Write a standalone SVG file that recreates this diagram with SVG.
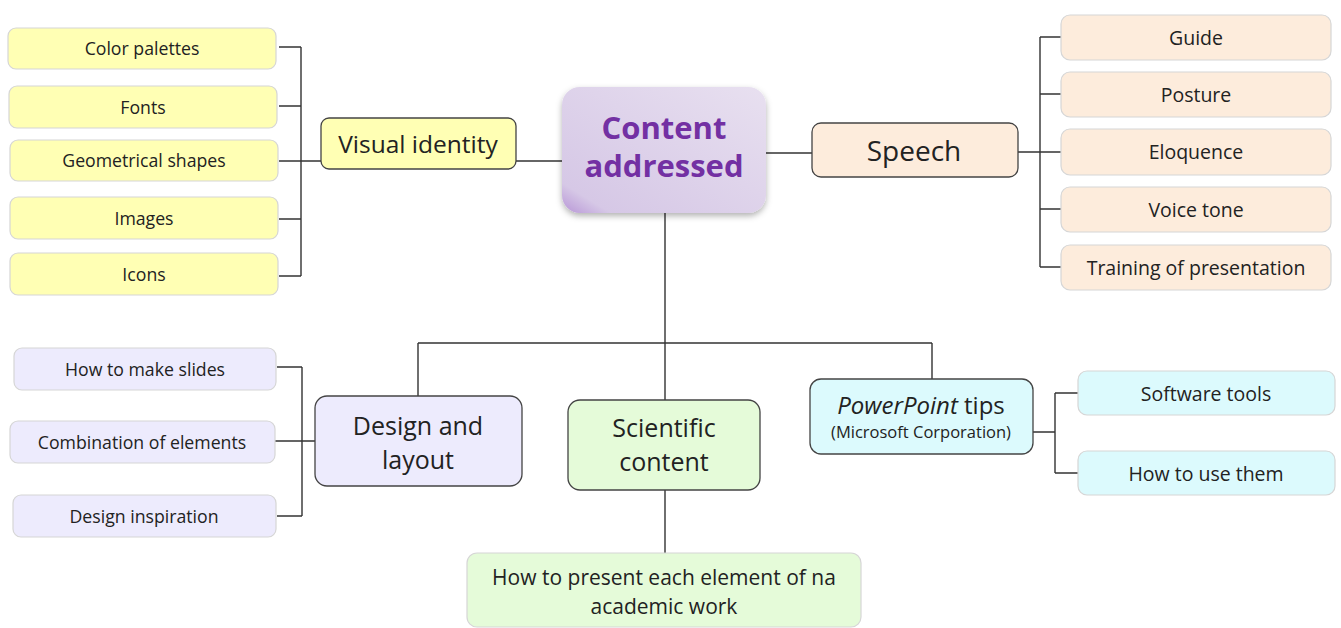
<svg xmlns="http://www.w3.org/2000/svg" width="1341" height="628" viewBox="0 0 1341 628">
<style>
text{font-family:"Open Sans","Liberation Sans",sans-serif;fill:#222;text-anchor:middle;dominant-baseline:central}
.leaf{stroke:#d6d6d6;stroke-width:1.2}
.main{stroke:#444;stroke-width:1.3}
.y{fill:#ffffb4}.p{fill:#fdecdc}.l{fill:#edebfd}.g{fill:#e5fbd9}.c{fill:#dcfafd}
.s{font-size:17.7px}.r{font-size:19.5px}.m{font-size:25px}
.con{fill:none;stroke:#333;stroke-width:1.4}
</style>
<defs>
<linearGradient id="cg" x1="0" y1="1" x2="1" y2="0">
<stop offset="0" stop-color="#b795d6"/><stop offset="0.12" stop-color="#d6c8e6"/><stop offset="1" stop-color="#e8e0f0"/>
</linearGradient>
<filter id="sh" x="-20%" y="-20%" width="140%" height="140%"><feDropShadow dx="0" dy="3" stdDeviation="3" flood-color="#000" flood-opacity="0.3"/></filter>
</defs>
<g id="connectors" class="con">
<path d="M279 47H301M279 106H301M279 219H301M279 276H301M301 47V276M279 161H321"/>
<path d="M516 161H562"/>
<path d="M766 153H812"/>
<path d="M1018 152H1061M1040 37V267M1040 37H1061M1040 94H1061M1040 209H1061M1040 267H1061"/>
<path d="M665 213V343M418 343H932M418 343V396M665 343V400M932 343V379"/>
<path d="M277 367H302M277 516H302M302 367V516M275 441H315"/>
<path d="M665 490V553"/>
<path d="M1033 432H1055M1055 393V473M1055 393H1078M1055 473H1078"/>
</g>
<g id="n-color"><rect class="leaf y" x="8" y="28" width="268" height="41" rx="8"/><text class="s" x="142" y="48">Color palettes</text></g>
<g id="n-fonts"><rect class="leaf y" x="9" y="86" width="268" height="42" rx="8"/><text class="s" x="143" y="107">Fonts</text></g>
<g id="n-geom"><rect class="leaf y" x="10" y="140" width="268" height="41" rx="8"/><text class="s" x="144" y="160">Geometrical shapes</text></g>
<g id="n-images"><rect class="leaf y" x="10" y="197" width="268" height="42" rx="8"/><text class="s" x="144" y="218">Images</text></g>
<g id="n-icons"><rect class="leaf y" x="10" y="253" width="268" height="42" rx="8"/><text class="s" x="144" y="274">Icons</text></g>
<g id="n-visual"><rect class="main y" x="321" y="118" width="195" height="51" rx="8"/><text x="418" y="143" style="font-size:24.5px">Visual identity</text></g>
<g id="n-center"><rect x="562" y="87" width="204" height="126" rx="18" fill="url(#cg)" filter="url(#sh)"/>
<text x="664" y="127" style="font-size:31px;font-weight:bold;fill:#7330a3">Content</text>
<text x="664" y="165" style="font-size:31px;font-weight:bold;fill:#7330a3">addressed</text></g>
<g id="n-speech"><rect class="main p" x="812" y="123" width="206" height="54" rx="9"/><text x="914" y="150" style="font-size:28px">Speech</text></g>
<g id="n-guide"><rect class="leaf p" x="1061" y="15" width="270" height="45" rx="9"/><text class="r" x="1196" y="37">Guide</text></g>
<g id="n-posture"><rect class="leaf p" x="1061" y="72" width="270" height="45" rx="9"/><text class="r" x="1196" y="94">Posture</text></g>
<g id="n-eloq"><rect class="leaf p" x="1061" y="129" width="270" height="46" rx="9"/><text class="r" x="1196" y="151">Eloquence</text></g>
<g id="n-voice"><rect class="leaf p" x="1061" y="187" width="270" height="45" rx="9"/><text class="r" x="1196" y="209">Voice tone</text></g>
<g id="n-training"><rect class="leaf p" x="1061" y="245" width="270" height="45" rx="9"/><text class="r" x="1196" y="267">Training of presentation</text></g>
<g id="n-howslides"><rect class="leaf l" x="14" y="348" width="262" height="42" rx="8"/><text class="s" x="145" y="369">How to make slides</text></g>
<g id="n-combo"><rect class="leaf l" x="10" y="421" width="265" height="42" rx="8"/><text class="s" x="142" y="442">Combination of elements</text></g>
<g id="n-inspire"><rect class="leaf l" x="13" y="495" width="263" height="42" rx="8"/><text class="s" x="144" y="516">Design inspiration</text></g>
<g id="n-design"><rect class="main l" x="315" y="396" width="207" height="90" rx="12"/><text class="m" x="418" y="425">Design and</text><text class="m" x="418" y="459">layout</text></g>
<g id="n-sci"><rect class="main g" x="568" y="400" width="192" height="90" rx="12"/><text class="m" x="664" y="427">Scientific</text><text class="m" x="664" y="461">content</text></g>
<g id="n-present"><rect class="leaf g" x="467" y="553" width="394" height="74" rx="10"/><text x="664" y="577" style="font-size:21px">How to present each element of na</text><text x="664" y="606" style="font-size:21px">academic work</text></g>
<g id="n-ppt"><rect class="main c" x="810" y="379" width="223" height="75" rx="11"/><text x="921" y="404" style="font-size:24px"><tspan font-style="italic">PowerPoint</tspan> tips</text><text x="921" y="431" style="font-size:16.5px">(Microsoft Corporation)</text></g>
<g id="n-software"><rect class="leaf c" x="1078" y="371" width="257" height="44" rx="9"/><text class="r" x="1206" y="393">Software tools</text></g>
<g id="n-howuse"><rect class="leaf c" x="1078" y="451" width="257" height="44" rx="9"/><text class="r" x="1206" y="473">How to use them</text></g>
</svg>
